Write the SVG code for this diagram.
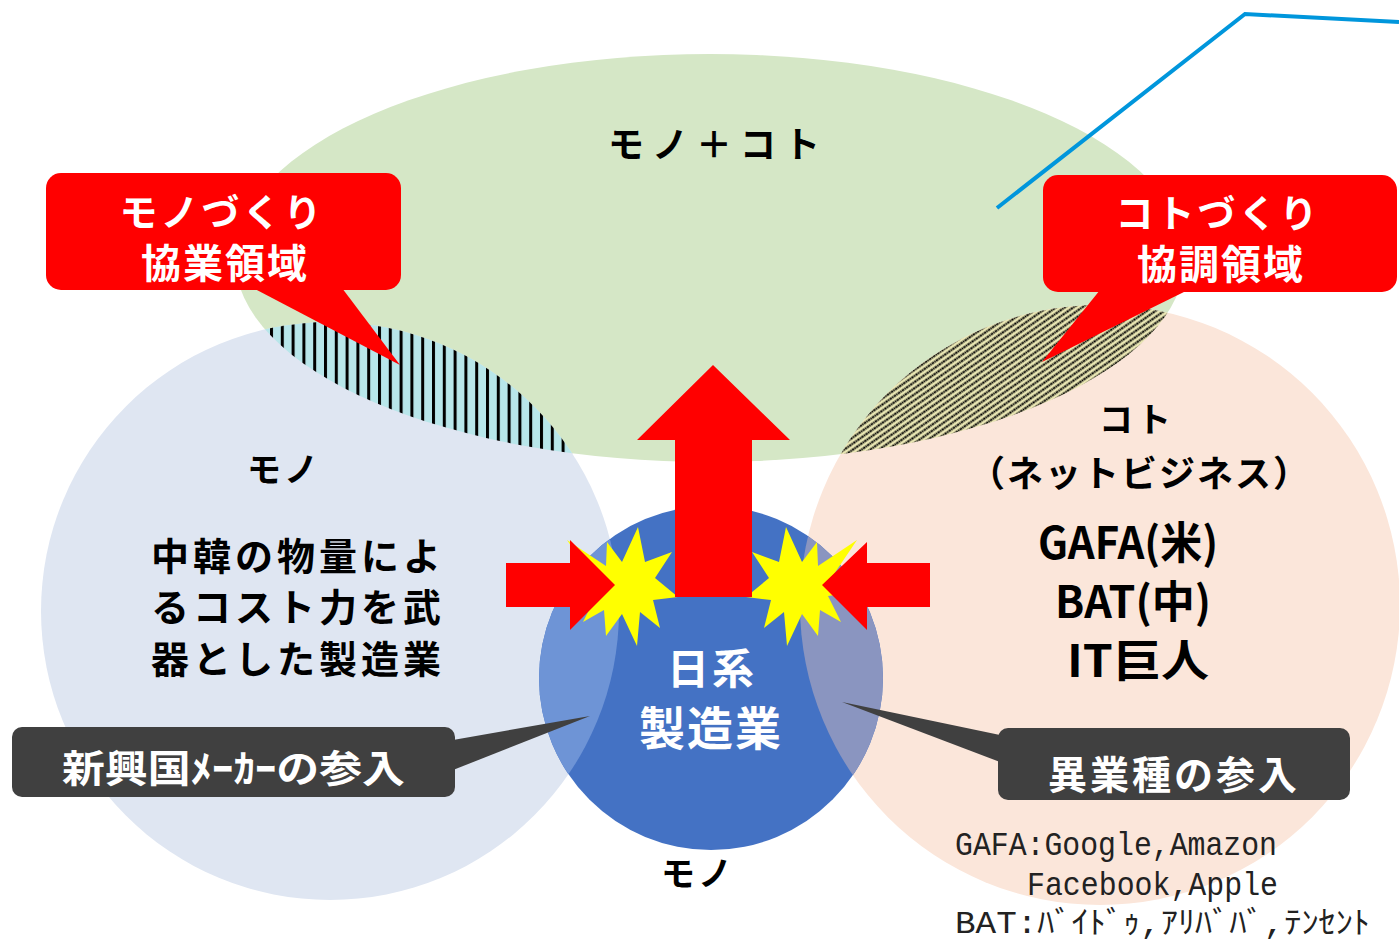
<svg xmlns="http://www.w3.org/2000/svg" width="1399" height="943" viewBox="0 0 1399 943">
<defs>
<style>
.jp{font-family:"Noto Sans CJK JP","Noto Sans",sans-serif;font-weight:700;}
.blk{fill:#000}
.wht{fill:#fff}
.mid{text-anchor:middle}
.mono{font-family:"Liberation Mono","Noto Sans CJK JP",monospace;font-weight:400;fill:#222}
.red{fill:#ff0000}
.dark{fill:#404040}
</style>
<pattern id="vline" patternUnits="userSpaceOnUse" x="0" y="0" width="10.8" height="10">
<rect width="10.8" height="10" fill="#b8e6ea"/><rect x="0" width="3" height="10" fill="#000"/>
</pattern>
<pattern id="dline" patternUnits="userSpaceOnUse" width="5" height="5" patternTransform="rotate(-35)">
<rect width="5" height="5" fill="#e9e6b3"/><line x1="0" y1="2.5" x2="5" y2="2.5" stroke="#000" stroke-width="1.9" stroke-dasharray="2 0.5"/>
</pattern>
<clipPath id="cL"><circle cx="330" cy="611" r="289"/></clipPath>
<clipPath id="cR"><circle cx="1100" cy="605" r="300"/></clipPath>
<polygon id="burst" fill="#ffff00" points="14,-59 21,-24 48,-34 31,-8 54,11 29,14 36,42 16,26 13,60 -2,28 -18,50 -20,24 -41,36 -28,10 -58,6 -30,-6 -57,-46 -18,-20 -17,-44 -2,-24"/>
</defs>

<g id="shapes">
<ellipse id="koto-mono" cx="710" cy="258" rx="475" ry="204" fill="#d5e7c6"/>
<circle id="mono-circle" cx="330" cy="611" r="289" fill="#dfe6f2"/>
<circle id="koto-circle" cx="1100" cy="605" r="300" fill="#fbe6da"/>
<ellipse cx="710" cy="258" rx="475" ry="204" fill="url(#vline)" clip-path="url(#cL)"/>
<ellipse cx="710" cy="258" rx="475" ry="204" fill="url(#dline)" clip-path="url(#cR)"/>
<circle id="japan-circle" cx="711" cy="678" r="172" fill="#4472c4"/>
<circle cx="711" cy="678" r="172" fill="#6e94d6" clip-path="url(#cL)"/>
<circle cx="711" cy="678" r="172" fill="#8a95c0" clip-path="url(#cR)"/>
</g>

<g id="bursts">
<use href="#burst" transform="translate(624,586)"/>
<use href="#burst" transform="translate(800,586) scale(-1,1)"/>
</g>

<g id="connectors">
<polygon class="red" points="675,597 675,440 637,440 713,365 790,440 752,440 752,597"/>
<polygon class="red" points="506,563 570,563 570,540 615,585 570,630 570,607 506,607"/>
<polygon class="red" points="930,563 867,563 867,542 822,585 867,630 867,607 930,607"/>
<polyline points="997,208 1245,14 1399,22" fill="none" stroke="#0096dc" stroke-width="4"/>
</g>

<g id="callout-mono">
<rect class="red" x="46" y="173" width="355" height="117" rx="15"/>
<polygon class="red" points="253,288 342,288 400,365"/>
<text class="jp wht mid" x="222" y="226" font-size="38" letter-spacing="3">モノづくり</text>
<text class="jp wht mid" x="225" y="278" font-size="40" letter-spacing="2">協業領域</text>
</g>

<g id="callout-koto">
<rect class="red" x="1043" y="175" width="354" height="117" rx="15"/>
<polygon class="red" points="1100,290 1188,290 1042,362"/>
<text class="jp wht mid" x="1218" y="227" font-size="38" letter-spacing="3">コトづくり</text>
<text class="jp wht mid" x="1221" y="279" font-size="40" letter-spacing="2">協調領域</text>
</g>

<g id="callout-new">
<rect class="dark" x="12" y="727" width="443" height="70" rx="10"/>
<polygon class="dark" points="453,740 453,770 590,716"/>
<text class="jp wht" x="62" y="782" font-size="38" textLength="343" lengthAdjust="spacingAndGlyphs">新興国ﾒｰｶｰの参入</text>
</g>

<g id="callout-other">
<rect class="dark" x="998" y="728" width="352" height="72" rx="10"/>
<polygon class="dark" points="1000,735 1000,762 842,702"/>
<text class="jp wht mid" x="1174" y="789" font-size="39" letter-spacing="3">異業種の参入</text>
</g>

<g id="label-top">
<text class="jp blk mid" x="718" y="158" font-size="36" letter-spacing="8">モノ＋コト</text>
</g>

<g id="label-mono">
<text class="jp blk mid" x="284" y="482" font-size="34" letter-spacing="3">モノ</text>
<text class="jp blk mid" x="298" y="570" font-size="38" letter-spacing="4">中韓の物量によ</text>
<text class="jp blk mid" x="298" y="621" font-size="38" letter-spacing="4">るコスト力を武</text>
<text class="jp blk mid" x="298" y="673" font-size="38" letter-spacing="4">器とした製造業</text>
</g>

<g id="label-koto">
<text class="jp blk mid" x="1137" y="432" font-size="34" letter-spacing="4">コト</text>
<text class="jp blk mid" x="1140" y="487" font-size="36" letter-spacing="2">（ネットビジネス）</text>
<text class="jp blk" x="1038" y="559" font-size="44" textLength="180" lengthAdjust="spacingAndGlyphs">GAFA(米)</text>
<text class="jp blk" x="1055" y="618" font-size="44" textLength="156" lengthAdjust="spacingAndGlyphs">BAT(中)</text>
<text class="jp blk" x="1067" y="677" font-size="44" textLength="142" lengthAdjust="spacingAndGlyphs">IT巨人</text>
</g>

<g id="label-japan">
<text class="jp wht mid" x="712" y="684" font-size="42" letter-spacing="3">日系</text>
<text class="jp wht mid" x="711" y="745" font-size="46" letter-spacing="2">製造業</text>
<text class="jp blk mid" x="698" y="886" font-size="34" letter-spacing="3">モノ</text>
</g>

<g id="note">
<text class="mono" x="955" y="855" font-size="33" textLength="322" lengthAdjust="spacingAndGlyphs">GAFA:Google,Amazon</text>
<text class="mono" x="1027" y="895" font-size="33" textLength="251" lengthAdjust="spacingAndGlyphs">Facebook,Apple</text>
<text class="mono" x="955" y="933" font-size="31" textLength="415" lengthAdjust="spacingAndGlyphs">BAT:ﾊﾞｲﾄﾞｩ,ｱﾘﾊﾞﾊﾞ,ﾃﾝｾﾝﾄ</text>
</g>
</svg>
